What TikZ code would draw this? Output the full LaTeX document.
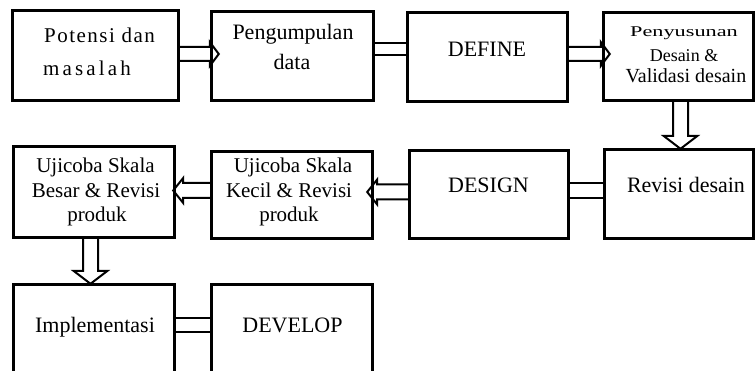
\documentclass[tikz,border=0pt]{standalone}
\usepackage{fontspec}
\setmainfont{Liberation Serif}
\usetikzlibrary{calc}
\tikzset{
  box/.style={draw, line width=3pt, inner sep=0pt},
  arr/.style={draw, line width=2pt, line join=miter},
  link/.style={draw, line width=2.5pt},
  lbl/.style={inner sep=0pt, anchor=base, font=\fontsize{22}{26}\selectfont},
  lblm/.style={inner sep=0pt, anchor=base, font=\fontsize{21}{25}\selectfont},
}
% block arrows: #1 tail coordinate, #2 tip coordinate
\newcommand\rblock[2]{\draw[arr] ($(#1)+(0,7)$) -- ($(#2)+(-9,7)$) -- ($(#2)+(-9,12)$) -- (#2) -- ($(#2)+(-9,-12)$) -- ($(#2)+(-9,-7)$) -- ($(#1)+(0,-7)$);}
\newcommand\lblock[2]{\draw[arr] ($(#1)+(0,7.5)$) -- ($(#2)+(10,7.5)$) -- ($(#2)+(10,12.5)$) -- (#2) -- ($(#2)+(10,-12.5)$) -- ($(#2)+(10,-7.5)$) -- ($(#1)+(0,-7.5)$);}
\newcommand\dblock[2]{\draw[arr] ($(#1)+(-7.5,0)$) -- ($(#2)+(-7.5,13)$) -- ($(#2)+(-17,13)$) -- (#2) -- ($(#2)+(17,13)$) -- ($(#2)+(7.5,13)$) -- ($(#1)+(7.5,0)$);}
\begin{document}
\begin{tikzpicture}[x=1pt,y=1pt]
\useasboundingbox (0,0) rectangle (755,-371);
\clip (0,0) rectangle (755,-371);
\fill[white] (0,0) rectangle (755,-371);
% boxes (positions only)
\path (95.5,-55.5) node[minimum width=165pt, minimum height=89pt] (b1) {}
      (292.5,-56) node[minimum width=161pt, minimum height=88pt] (b2) {}
      (487.5,-57) node[minimum width=159pt, minimum height=88pt] (b3) {}
      (678.5,-56.5) node[minimum width=149pt, minimum height=87pt] (b4) {}
      (94,-192) node[minimum width=160pt, minimum height=90pt] (b5) {}
      (292,-195) node[minimum width=160pt, minimum height=86pt] (b6) {}
      (489,-194.5) node[minimum width=158pt, minimum height=87pt] (b7) {}
      (679,-194) node[minimum width=148pt, minimum height=88pt] (b8) {}
      (94,-335) node[minimum width=160pt, minimum height=100pt] (b9) {}
      (292,-335) node[minimum width=160pt, minimum height=100pt] (b10) {};
% connectors (drawn before box borders)
\coordinate (a1s) at ($(b1.east)+(0,1.5)$);
\coordinate (a1e) at ($(a1s -| b2.west)+(7,0)$);
\rblock{a1s}{a1e}
\coordinate (a2s) at ($(b3.east)+(0,3)$);
\coordinate (a2e) at ($(a2s -| b4.west)+(6,0)$);
\rblock{a2s}{a2e}
\coordinate (a3s) at ($(b4.south)+(2,0)$);
\coordinate (a3e) at ($(a3s |- b8.north)+(0,1)$);
\dblock{a3s}{a3e}
\coordinate (a4s) at ($(b7.west)+(0,2.5)$);
\coordinate (a4e) at ($(a4s -| b6.east)+(-5,0)$);
\lblock{a4s}{a4e}
\coordinate (a5s) at ($(b6.west)+(0,4.5)$);
\coordinate (a5e) at ($(a5s -| b5.east)+(-1,0)$);
\lblock{a5s}{a5e}
\coordinate (a6s) at ($(b5.south)+(-3.5,0)$);
\coordinate (a6e) at ($(a6s |- b9.north)+(0,1)$);
\dblock{a6s}{a6e}
\draw[link] ($(b2.east)+(0,13)$) rectangle ($(b3.west)+(0,2)$);
\draw[link] ($(b7.east)+(0,11.5)$) rectangle ($(b8.west)+(0,-4)$);
\draw[link] ($(b9.east)+(0,17)$) rectangle ($(b10.west)+(0,3)$);
% box borders
\foreach \b in {b1,b2,b3,b4,b5,b6,b7,b8,b9,b10}
  \draw[line width=3pt] (\b.north west) rectangle (\b.south east);
% texts
\node[lbl, anchor=base west, font=\fontsize{21}{25}\selectfont\addfontfeature{LetterSpace=7}] (t1a) at (44,-43) {Potensi dan};
\node[lbl, anchor=base west, font=\fontsize{21}{25}\selectfont\addfontfeature{LetterSpace=15}] (t1b) at (43,-76) {masalah};
\node[lbl] (t2a) at (293,-40) {Pengumpulan};
\node[lbl] (t2b) at (292,-70) {data};
\node[lbl] (t3) at (487,-57) {DEFINE};
\node[lbl, font=\fontsize{13.5}{16}\selectfont] (t4a) at (684,-37) {\scalebox{1.65}[1.1]{Penyusunan}};
\node[lbl, font=\fontsize{18}{22}\selectfont] (t4b) at (684,-62) {Desain \&};
\node[lbl, font=\fontsize{20}{24}\selectfont] (t4c) at (686,-83) {Validasi desain};
\node[lblm] (t5a) at (95.5,-173) {Ujicoba Skala};
\node[lblm] (t5b) at (96,-198) {Besar \& Revisi};
\node[lblm] (t5c) at (97,-222) {produk};
\node[lblm] (t6a) at (293,-173) {Ujicoba Skala};
\node[lblm] (t6b) at (289,-198) {Kecil \& Revisi};
\node[lblm] (t6c) at (289,-222) {produk};
\node[lbl] (t7) at (488.5,-193) {DESIGN};
\node[lbl] (t8) at (686,-193) {Revisi desain};
\node[lbl] (t9) at (95,-332) {Implementasi};
\node[lbl] (t10) at (292.5,-332) {DEVELOP};
\end{tikzpicture}
\end{document}
